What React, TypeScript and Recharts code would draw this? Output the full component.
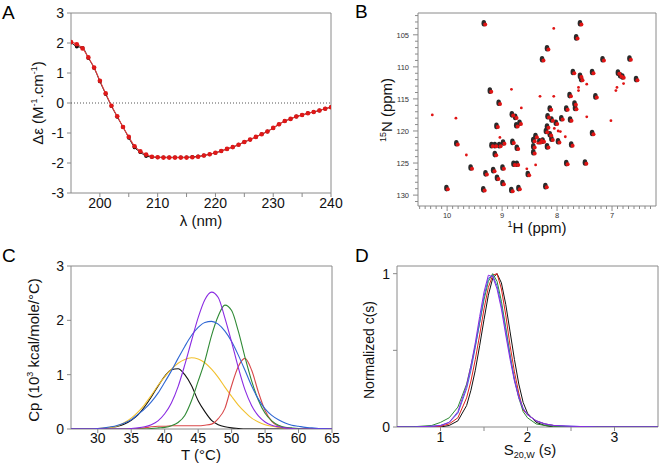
import React from 'react'
import { LineChart, Line, XAxis, YAxis, ReferenceLine, ReferenceArea, ScatterChart, Scatter } from 'recharts'

const FONT = '"Liberation Sans", Arial, Helvetica, sans-serif'
const AXIS = '#8a8a8a'

// A: CD spectrum
const wavelengths = [
  195, 196, 197, 198, 199, 200, 201, 202, 203, 204, 205, 206, 207, 208, 209, 210, 211, 212, 213, 214, 215, 216, 217,
  218, 219, 220, 221, 222, 223, 224, 225, 226, 227, 228, 229, 230, 231, 232, 233, 234, 235, 236, 237, 238, 239, 240,
]
const cdBlack = [
  2.02, 1.88, 1.84, 1.5, 1.17, 0.72, 0.3, -0.1, -0.46, -0.8, -1.16, -1.48, -1.64, -1.77, -1.8, -1.81, -1.81, -1.81,
  -1.81, -1.81, -1.81, -1.8, -1.78, -1.75, -1.71, -1.66, -1.6, -1.53, -1.47, -1.39, -1.3, -1.22, -1.13, -1.04, -0.95,
  -0.83, -0.71, -0.6, -0.53, -0.45, -0.4, -0.34, -0.3, -0.25, -0.19, -0.14,
]
const cdRed = [
  2.03, 1.96, 1.82, 1.52, 1.18, 0.74, 0.32, -0.09, -0.44, -0.8, -1.13, -1.44, -1.61, -1.72, -1.79, -1.81, -1.82, -1.82,
  -1.82, -1.82, -1.82, -1.81, -1.79, -1.75, -1.71, -1.66, -1.6, -1.53, -1.47, -1.39, -1.3, -1.22, -1.13, -1.04, -0.95,
  -0.83, -0.71, -0.6, -0.53, -0.45, -0.4, -0.34, -0.3, -0.25, -0.19, -0.14,
]

// B: 1H-15N HSQC peaks (black and red overlaid), plus red-only peaks
const bothH = [
  9.32, 7.57, 7.64, 8.17, 8.26, 7.16, 6.67, 7.7, 7.35, 7.57, 7.55, 6.88, 6.84, 6.8, 6.55, 9.21, 7.76, 7.29, 9.05, 7.67,
  7.66, 7.82, 8.12, 8.81, 8.75, 8.16, 8.09, 8.01, 7.91, 7.75, 8.67, 8.73, 9.09, 7.35, 8.17, 8.19, 8.12, 8.38, 8.42, 8.42,
  8.42, 8.31, 8.25, 8.09, 7.97, 8.97, 9.04, 9.12, 9.18, 8.8, 8.72, 8.17, 7.73, 9.82, 9.12, 8.78, 8.72, 7.82, 7.48, 9.56,
  9.15, 8.98, 9.29, 8.52, 9.08, 8.98, 8.69, 8.82, 9.33, 10.0, 8.2,
]
const bothN = [
  103.3, 103.3, 105.5, 107.2, 108.9, 108.9, 108.8, 110.9, 110.9, 111.5, 112.0, 111.0, 111.4, 111.6, 112.0, 113.8, 114.5,
  114.7, 115.7, 115.8, 116.5, 116.6, 116.6, 117.5, 117.9, 117.8, 118.3, 118.8, 118.1, 118.3, 118.8, 119.2, 119.3, 120.4,
  119.4, 120.1, 120.6, 120.9, 121.5, 122.5, 123.4, 121.7, 121.6, 121.3, 121.7, 121.9, 122.3, 122.3, 122.3, 121.8, 122.7,
  122.5, 122.2, 122.0, 123.7, 125.2, 125.2, 125.1, 125.0, 125.8, 126.2, 125.8, 126.7, 126.8, 127.4, 128.2, 129.0, 129.3,
  129.2, 129.0, 128.7,
]
const redH = [
  8.06, 6.91, 6.93, 7.46, 6.79, 7.61, 7.61, 8.31, 8.06, 8.65, 10.27, 9.84, 7.46, 7.02, 7.94, 7.85, 9.04, 9.65, 8.39, 8.83,
  8.35, 8.28, 7.98, 8.05, 8.55,
]
const redN = [
  104.0, 113.2, 113.7, 112.7, 112.6, 113.2, 113.7, 114.6, 114.6, 116.4, 117.5, 118.0, 117.8, 118.4, 120.1, 120.9, 121.0,
  123.75, 125.3, 113.5, 121.9, 121.4, 120.0, 119.6, 125.9,
]

// C: DSC thermograms
const temps = [
  26, 27, 28, 29, 30, 31, 32, 33, 34, 35, 36, 37, 38, 39, 40, 41, 42, 43, 44, 45, 46, 47, 48, 49, 50, 51, 52, 53, 54, 55,
  56, 57, 58, 59, 60, 61, 62, 63, 64, 65,
]
const cpBlack = [
  0, 0, 0, 0, 0, 0.01, 0.03, 0.05, 0.09, 0.16, 0.26, 0.41, 0.59, 0.79, 0.97, 1.09, 1.11, 1.0, 0.8, 0.52, 0.32, 0.16, 0.08,
  0.04, 0.02, 0.01, 0, 0, 0, 0, 0, 0, 0, 0, 0, 0, 0, 0, 0, 0,
]
const cpYellow = [
  0, 0, 0, 0, 0.01, 0.02, 0.03, 0.06, 0.12, 0.2, 0.31, 0.45, 0.62, 0.8, 0.96, 1.1, 1.21, 1.28, 1.31, 1.29, 1.22, 1.1,
  0.95, 0.77, 0.6, 0.44, 0.31, 0.2, 0.13, 0.08, 0.05, 0.03, 0.02, 0.01, 0.01, 0, 0, 0, 0, 0,
]
const cpBlue = [
  0, 0, 0, 0, 0.01, 0.02, 0.04, 0.07, 0.11, 0.17, 0.27, 0.37, 0.5, 0.66, 0.86, 1.07, 1.3, 1.52, 1.72, 1.87, 1.96, 1.98,
  1.93, 1.8, 1.61, 1.36, 1.08, 0.79, 0.55, 0.37, 0.25, 0.17, 0.11, 0.07, 0.05, 0.03, 0.02, 0.01, 0.01, 0,
]
const cpPurple = [
  0, 0, 0, 0, 0, 0, 0, 0, 0, 0.01, 0.02, 0.04, 0.08, 0.15, 0.28, 0.48, 0.78, 1.18, 1.62, 2.05, 2.38, 2.52, 2.42, 2.04,
  1.6, 1.13, 0.72, 0.43, 0.24, 0.13, 0.07, 0.04, 0.02, 0.01, 0, 0, 0, 0, 0, 0,
]
const cpGreen = [
  0, 0, 0, 0, 0, 0, 0, 0, 0, 0, 0, 0, 0.01, 0.02, 0.03, 0.06, 0.12, 0.25, 0.52, 0.88, 1.25, 1.72, 2.08, 2.28, 2.18, 1.8,
  1.32, 0.88, 0.53, 0.29, 0.15, 0.07, 0.03, 0.02, 0.01, 0, 0, 0, 0, 0,
]
const cpRed = [
  0, 0, 0, 0, 0, 0, 0, 0, 0, 0, 0.01, 0.02, 0.04, 0.05, 0.05, 0.06, 0.06, 0.06, 0.06, 0.06, 0.07, 0.09, 0.19, 0.38, 0.8,
  1.15, 1.3, 1.08, 0.68, 0.34, 0.14, 0.05, 0.02, 0.01, 0, 0, 0, 0, 0, 0,
]

// D: sedimentation coefficient distributions
const sValues = [
  0.5, 0.7, 0.9, 1.0, 1.1, 1.2, 1.3, 1.35, 1.4, 1.45, 1.5, 1.55, 1.6, 1.65, 1.7, 1.75, 1.8, 1.85, 1.9, 1.95, 2.0, 2.1, 2.2,
  2.3, 2.5, 2.8, 3.5,
]
const csBlack = [
  0, 0, 0, 0, 0.01, 0.04, 0.14, 0.24, 0.37, 0.53, 0.7, 0.86, 0.97, 1.0, 0.94, 0.8, 0.62, 0.44, 0.28, 0.16, 0.09, 0.03,
  0.01, 0, 0, 0, 0,
]
const csRed = [
  0, 0, 0, 0.005, 0.02, 0.06, 0.19, 0.3, 0.44, 0.6, 0.77, 0.91, 0.99, 1.0, 0.9, 0.73, 0.53, 0.36, 0.22, 0.11, 0.08, 0.04,
  0.02, 0.01, 0, 0, 0,
]
const csGreen = [
  0, 0.002, 0.01, 0.03, 0.06, 0.13, 0.28, 0.4, 0.53, 0.68, 0.83, 0.95, 1.0, 0.95, 0.82, 0.65, 0.47, 0.31, 0.19, 0.1, 0.06,
  0.02, 0.01, 0.005, 0, 0, 0,
]
const csBlue = [
  0, 0, 0.005, 0.01, 0.03, 0.09, 0.25, 0.37, 0.52, 0.68, 0.85, 0.97, 0.99, 0.92, 0.79, 0.63, 0.46, 0.31, 0.2, 0.12, 0.08,
  0.04, 0.02, 0.01, 0.005, 0, 0,
]
const csPurple = [
  0, 0, 0.005, 0.01, 0.03, 0.1, 0.27, 0.4, 0.55, 0.72, 0.88, 0.99, 0.98, 0.9, 0.77, 0.6, 0.44, 0.3, 0.19, 0.12, 0.08, 0.04,
  0.02, 0.01, 0.005, 0, 0,
]

const cdData = wavelengths.map((w, i) => ({ w, black: cdBlack[i], red: cdRed[i] }))
const bothPeaks = bothH.map((h, i) => ({ h, n: bothN[i] }))
const redPeaks = redH.map((h, i) => ({ h, n: redN[i] }))
const dscData = temps.map((t, i) => ({
  t,
  black: cpBlack[i],
  yellow: cpYellow[i],
  blue: cpBlue[i],
  purple: cpPurple[i],
  green: cpGreen[i],
  red: cpRed[i],
}))
const sedData = sValues.map((s, i) => ({
  s,
  black: csBlack[i],
  red: csRed[i],
  green: csGreen[i],
  blue: csBlue[i],
  purple: csPurple[i],
}))

// tick positions (axes only)
const range = (a: number, b: number, step: number) => {
  const out: number[] = []
  for (let v = a; v <= b + 1e-9; v += step) out.push(Math.round(v * 100) / 100)
  return out
}
const isInt = (v: number) => Math.abs(v - Math.round(v)) < 1e-6

interface TickOpts {
  side: 'left' | 'bottom'
  len: number
  minorLen?: number
  gap: number
  fontSize: number
  isMajor?: (v: number) => boolean
  color?: string
}

function makeTick(o: TickOpts) {
  return function Tick(props: any) {
    const { x, y, payload } = props
    const v: number = payload.value
    const major = o.isMajor ? o.isMajor(v) : true
    const len = major ? o.len : o.minorLen ?? o.len
    const label = String(Math.round(v * 100) / 100)
    if (o.side === 'bottom') {
      return (
        <g>
          <line x1={x} y1={y} x2={x} y2={y + len} stroke={AXIS} />
          {major && (
            <text x={x} y={y + o.gap} textAnchor="middle" fontSize={o.fontSize} fontFamily={FONT} fill={o.color ?? '#111'}>
              {label}
            </text>
          )}
        </g>
      )
    }
    return (
      <g>
        <line x1={x} y1={y} x2={x - len} y2={y} stroke={AXIS} />
        {major && (
          <text
            x={x - o.gap}
            y={y}
            dy="0.36em"
            textAnchor="end"
            fontSize={o.fontSize}
            fontFamily={FONT}
            fill={o.color ?? '#111'}
          >
            {label}
          </text>
        )}
      </g>
    )
  }
}

function Title({ x, y, size = 15, vertical = false, children }: any) {
  return (
    <div
      style={{
        position: 'absolute',
        left: x,
        top: y,
        transform: vertical ? 'translate(-50%, -50%) rotate(-90deg)' : 'translate(-50%, -50%)',
        whiteSpace: 'nowrap',
        fontSize: size,
        fontFamily: FONT,
        lineHeight: 1,
        color: '#111',
      }}
    >
      {children}
    </div>
  )
}

function Letter({ x, y, children }: any) {
  return (
    <div style={{ position: 'absolute', left: x, top: y, fontSize: 19, fontFamily: FONT, lineHeight: 1, color: '#000' }}>
      {children}
    </div>
  )
}

const supStyle = { fontSize: '0.6em', verticalAlign: '0.6em' }
const subStyle = { fontSize: '0.6em', verticalAlign: '-0.3em' }

function PanelA() {
  return (
    <div style={{ position: 'absolute', left: 0, top: 0 }}>
      <LineChart width={350} height={233} data={cdData} margin={{ top: 13, right: 19, bottom: 0, left: 0 }}>
        <XAxis
          dataKey="w"
          type="number"
          domain={[195, 240]}
          allowDataOverflow
          ticks={range(200, 240, 5)}
          interval={0}
          height={40}
          axisLine={false}
          tickLine={false}
          tickSize={0}
          tickMargin={0}
          tick={makeTick({ side: 'bottom', len: 4, gap: 15, fontSize: 14, isMajor: (v) => v % 10 === 0 })}
        />
        <YAxis
          type="number"
          domain={[-3, 3]}
          allowDataOverflow
          ticks={range(-3, 3, 1)}
          interval={0}
          width={71}
          axisLine={false}
          tickLine={false}
          tickSize={0}
          tickMargin={0}
          tick={makeTick({ side: 'left', len: 4, gap: 7, fontSize: 14 })}
        />
        <ReferenceArea x1={195} x2={240} y1={-3} y2={3} fill="none" stroke={AXIS} strokeWidth={1} ifOverflow="visible" />
        <ReferenceLine y={0} stroke="#555" strokeDasharray="1 2" />
        <Line
          dataKey="black"
          type="monotone"
          stroke="#111"
          strokeWidth={1}
          dot={{ r: 1.9, fill: '#111', stroke: 'none' }}
          isAnimationActive={false}
        />
        <Line
          dataKey="red"
          type="monotone"
          stroke="#e23b3b"
          strokeWidth={1.1}
          dot={{ r: 2.3, fill: '#e01818', stroke: 'none' }}
          isAnimationActive={false}
        />
      </LineChart>
      <Title x={37} y={103} vertical>
        Δε (M<span style={supStyle}>-1</span>.cm<span style={supStyle}>-1</span>)
      </Title>
      <Title x={201} y={220}>λ (nm)</Title>
      <Letter x={2} y={3}>A</Letter>
    </div>
  )
}

const blackPeak = (p: any) => <ellipse cx={p.cx - 0.7} cy={p.cy - 0.6} rx={2.3} ry={3.3} fill="#2a2a2a" />
const redPeak = (p: any) => <circle cx={p.cx + 0.7} cy={p.cy + 0.6} r={2.0} fill="#e01414" />
const redSmall = (p: any) => <circle cx={p.cx} cy={p.cy} r={1.4} fill="#e01414" />

function PanelB() {
  return (
    <div style={{ position: 'absolute', left: 330, top: 0 }}>
      <ScatterChart width={329} height={233} margin={{ top: 13, right: 3, bottom: 0, left: 0 }}>
        <XAxis
          dataKey="h"
          type="number"
          reversed
          domain={[6.2, 10.53]}
          allowDataOverflow
          ticks={range(6.3, 10.5, 0.1)}
          interval={0}
          height={27}
          axisLine={false}
          tickLine={false}
          tickSize={0}
          tickMargin={0}
          tick={makeTick({ side: 'bottom', len: 5, minorLen: 3, gap: 12, fontSize: 7.5, isMajor: isInt, color: '#333' })}
        />
        <YAxis
          dataKey="n"
          type="number"
          reversed
          domain={[101.6, 131.7]}
          allowDataOverflow
          ticks={range(102, 131, 1)}
          interval={0}
          width={88}
          axisLine={false}
          tickLine={false}
          tickSize={0}
          tickMargin={0}
          tick={makeTick({ side: 'left', len: 5, minorLen: 3, gap: 9, fontSize: 7.5, isMajor: (v) => v % 5 === 0, color: '#333' })}
        />
        <ReferenceArea x1={6.2} x2={10.53} y1={101.6} y2={131.7} fill="none" stroke={AXIS} ifOverflow="visible" />
        <Scatter data={bothPeaks} shape={blackPeak} isAnimationActive={false} />
        <Scatter data={redPeaks} shape={redSmall} isAnimationActive={false} />
        <Scatter data={bothPeaks} shape={redPeak} isAnimationActive={false} />
      </ScatterChart>
      <Title x={56} y={110} vertical>
        <span style={supStyle}>15</span>N (ppm)
      </Title>
      <Title x={207} y={227}>
        <span style={supStyle}>1</span>H (ppm)
      </Title>
      <Letter x={25} y={2}>B</Letter>
    </div>
  )
}

function PanelC() {
  return (
    <div style={{ position: 'absolute', left: 0, top: 233 }}>
      <LineChart width={350} height={233} data={dscData} margin={{ top: 33, right: 18, bottom: 0, left: 0 }}>
        <XAxis
          dataKey="t"
          type="number"
          domain={[26, 65]}
          allowDataOverflow
          ticks={range(30, 65, 5)}
          interval={0}
          height={37}
          axisLine={false}
          tickLine={false}
          tickSize={0}
          tickMargin={0}
          tick={makeTick({ side: 'bottom', len: 4, gap: 14, fontSize: 14 })}
        />
        <YAxis
          type="number"
          domain={[0, 3]}
          allowDataOverflow
          ticks={range(0, 3, 1)}
          interval={0}
          width={71}
          axisLine={false}
          tickLine={false}
          tickSize={0}
          tickMargin={0}
          tick={makeTick({ side: 'left', len: 4, gap: 7, fontSize: 14 })}
        />
        <ReferenceArea x1={26} x2={65} y1={0} y2={3} fill="none" stroke={AXIS} ifOverflow="visible" />
        <Line dataKey="black" type="monotone" stroke="#111" strokeWidth={1.1} dot={false} isAnimationActive={false} />
        <Line dataKey="yellow" type="monotone" stroke="#f2c12e" strokeWidth={1.1} dot={false} isAnimationActive={false} />
        <Line dataKey="red" type="monotone" stroke="#d9484a" strokeWidth={1.1} dot={false} isAnimationActive={false} />
        <Line dataKey="green" type="monotone" stroke="#2f8a35" strokeWidth={1.1} dot={false} isAnimationActive={false} />
        <Line dataKey="blue" type="monotone" stroke="#2e66d3" strokeWidth={1.1} dot={false} isAnimationActive={false} />
        <Line dataKey="purple" type="monotone" stroke="#8a2be2" strokeWidth={1.1} dot={false} isAnimationActive={false} />
      </LineChart>
      <Title x={33} y={117} vertical>
        Cp (10<span style={supStyle}>3</span> kcal/mole/°C)
      </Title>
      <Title x={201} y={221}>T (°C)</Title>
      <Letter x={2} y={13}>C</Letter>
    </div>
  )
}

function PanelD() {
  return (
    <div style={{ position: 'absolute', left: 330, top: 233 }}>
      <LineChart width={329} height={233} data={sedData} margin={{ top: 33, right: 1, bottom: 0, left: 0 }}>
        <XAxis
          dataKey="s"
          type="number"
          domain={[0.5, 3.5]}
          allowDataOverflow
          ticks={range(1, 3, 0.5)}
          interval={0}
          height={39}
          axisLine={false}
          tickLine={false}
          tickSize={0}
          tickMargin={0}
          tick={makeTick({ side: 'bottom', len: 4, gap: 15, fontSize: 14, isMajor: isInt })}
        />
        <YAxis
          type="number"
          domain={[0, 1.05]}
          allowDataOverflow
          ticks={[0, 0.5, 1]}
          interval={0}
          width={67}
          axisLine={false}
          tickLine={false}
          tickSize={0}
          tickMargin={0}
          tick={makeTick({ side: 'left', len: 4, gap: 7, fontSize: 14, isMajor: isInt })}
        />
        <ReferenceArea x1={0.5} x2={3.5} y1={0} y2={1.05} fill="none" stroke={AXIS} ifOverflow="visible" />
        <Line dataKey="black" type="linear" stroke="#111" strokeWidth={1} dot={false} isAnimationActive={false} />
        <Line dataKey="red" type="linear" stroke="#e0201c" strokeWidth={1} dot={false} isAnimationActive={false} />
        <Line dataKey="green" type="linear" stroke="#2f8a35" strokeWidth={1} dot={false} isAnimationActive={false} />
        <Line dataKey="blue" type="linear" stroke="#3a6fd8" strokeWidth={1} dot={false} isAnimationActive={false} />
        <Line dataKey="purple" type="linear" stroke="#8a2be2" strokeWidth={1} dot={false} isAnimationActive={false} />
      </LineChart>
      <Title x={39} y={117} size={14} vertical>
        Normalized c(s)
      </Title>
      <Title x={200} y={218}>
        S<span style={subStyle}>20,W</span> (s)
      </Title>
      <Letter x={25} y={13}>D</Letter>
    </div>
  )
}

export default function App() {
  return (
    <div style={{ position: 'absolute', left: 0, top: 0, width: 659, height: 466, background: '#fff', overflow: 'hidden' }}>
      <PanelA />
      <PanelB />
      <PanelC />
      <PanelD />
    </div>
  )
}
